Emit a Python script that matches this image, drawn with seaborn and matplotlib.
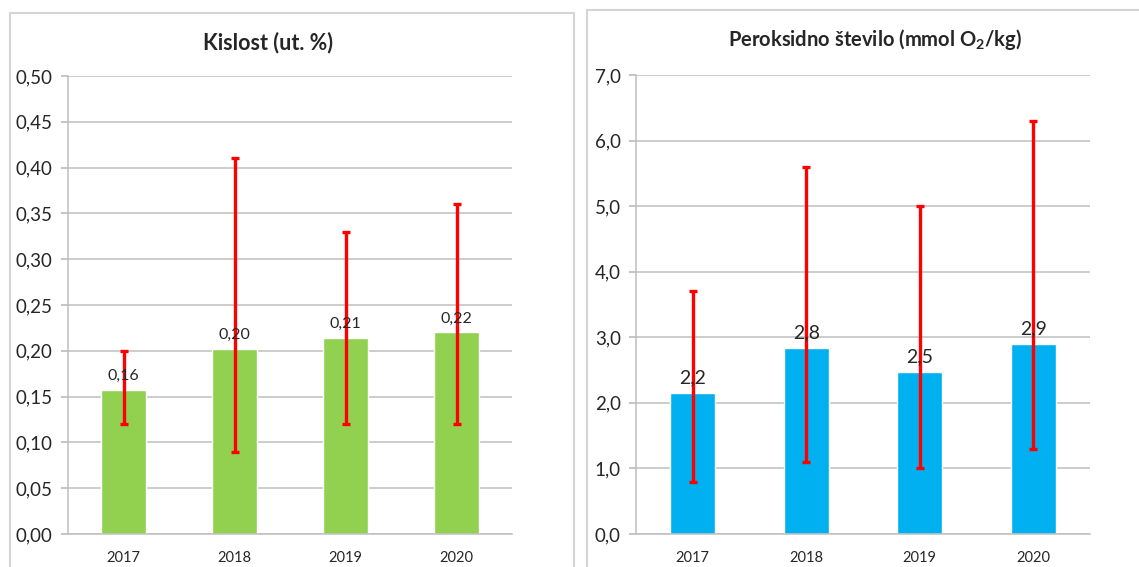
"""Kislost in peroksidno stevilo po letih - stolpci z razponi."""

import matplotlib

matplotlib.use("Agg")
import matplotlib.pyplot as plt
from matplotlib.patches import Rectangle
import numpy as np
import pandas as pd
import seaborn as sns

years = ["2017", "2018", "2019", "2020"]

kislost_mean = [0.157, 0.202, 0.214, 0.220]
kislost_min = [0.12, 0.09, 0.12, 0.12]
kislost_max = [0.20, 0.41, 0.33, 0.36]
kislost_labels = ["0,16", "0,20", "0,21", "0,22"]
kislost_ticks = [0.00, 0.05, 0.10, 0.15, 0.20, 0.25, 0.30, 0.35, 0.40, 0.45, 0.50]

perox_mean = [2.15, 2.83, 2.47, 2.90]
perox_min = [0.8, 1.1, 1.0, 1.3]
perox_max = [3.7, 5.6, 5.0, 6.3]
perox_labels = ["2,2", "2,8", "2,5", "2,9"]
perox_ticks = [0.0, 1.0, 2.0, 3.0, 4.0, 5.0, 6.0, 7.0]

sns.set_theme(style="white")
plt.rcParams["font.family"] = ["Lato", "DejaVu Sans"]

GRID = "#BEBEBE"
ERR = "#FF0000"


def draw_panel(ax, means, lows, highs, labels, ticks, color, fmt, label_size):
    df = pd.DataFrame({"leto": years, "vrednost": means})
    sns.barplot(data=df, x="leto", y="vrednost", color=color, width=0.4,
                saturation=1, ax=ax, zorder=2)
    means = np.array(means)
    yerr = [means - np.array(lows), np.array(highs) - means]
    ax.errorbar(np.arange(len(years)), means, yerr=yerr, fmt="none",
                ecolor=ERR, elinewidth=2.4, capsize=3, capthick=2.4, zorder=3)
    for i, (m, lab) in enumerate(zip(means, labels)):
        ax.annotate(lab, (i, m), xytext=(0, 5), textcoords="offset points",
                    ha="center", va="bottom", fontsize=label_size, zorder=4)

    ax.set_ylim(ticks[0], ticks[-1])
    ax.set_xlim(-0.5, len(years) - 0.5)
    ax.set_yticks(ticks)
    ax.set_yticklabels([fmt.format(t).replace(".", ",") for t in ticks], fontsize=13.5)
    ax.yaxis.grid(True, color=GRID, linewidth=1.1, zorder=0)
    ax.set_axisbelow(True)
    ax.set_xlabel("")
    ax.set_ylabel("")
    ax.set_xticks(np.arange(len(years)))
    ax.set_xticklabels(years, fontsize=10.5)
    ax.set_xticks(np.arange(-0.5, len(years)), minor=True)
    ax.tick_params(axis="x", which="major", length=0, pad=12)
    ax.tick_params(axis="x", which="minor", length=5, color=GRID, direction="out")
    ax.tick_params(axis="y", length=5, color=GRID, direction="out", left=True, pad=6)
    for side in ["top", "right"]:
        ax.spines[side].set_visible(False)
    for side in ["left", "bottom"]:
        ax.spines[side].set_color(GRID)
        ax.spines[side].set_linewidth(1.1)


fig = plt.figure(figsize=(11.39, 5.67), dpi=100)

# okvirja obeh grafov
fig.patches.append(Rectangle((10 / 1139, -0.05), 564 / 1139, 1.05 - 13 / 567,
                             transform=fig.transFigure, fill=False,
                             edgecolor="#D4D4D4", linewidth=1.5))
fig.patches.append(Rectangle((587 / 1139, -0.05), 600 / 1139, 1.05 - 10 / 567,
                             transform=fig.transFigure, fill=False,
                             edgecolor="#D4D4D4", linewidth=1.5))

ax1 = fig.add_axes([68 / 1139, 1 - 534 / 567, 444 / 1139, 458 / 567])
ax2 = fig.add_axes([636 / 1139, 1 - 534 / 567, 454 / 1139, 459 / 567])

draw_panel(ax1, kislost_mean, kislost_min, kislost_max, kislost_labels,
           kislost_ticks, "#92D050", "{:.2f}", 11.5)
draw_panel(ax2, perox_mean, perox_min, perox_max, perox_labels,
           perox_ticks, "#00B0F0", "{:.1f}", 14)

fig.text(268 / 1139, 1 - 43 / 567, "Kislost (ut. %)", ha="center", va="center",
         fontsize=15.5, fontweight="bold")
fig.text(875 / 1139, 1 - 40 / 567, r"Peroksidno število (mmol O$_\mathregular{2}$/kg)",
         ha="center", va="center", fontsize=14.5, fontweight="bold")

fig.savefig("out.png", dpi=100)
plt.close(fig)
